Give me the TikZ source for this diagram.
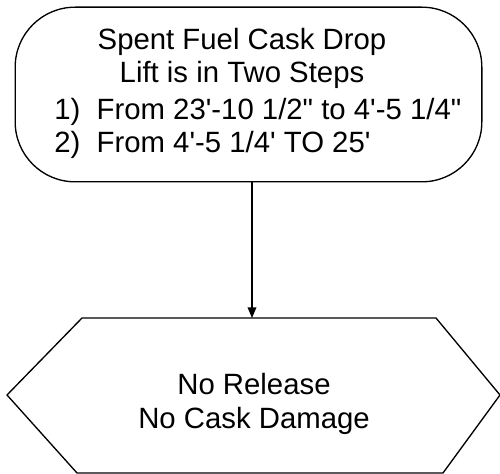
\documentclass[tikz,border=0pt]{standalone}
\usepackage{fontspec}
\setmainfont{Liberation Sans}
\usetikzlibrary{arrows.meta,positioning,calc}
\newcommand{\ftm}{\textquotesingle}
\newcommand{\inm}{\textquotedbl}
\tikzset{
  stadium/.style={draw, line width=1pt, rounded corners=45pt, minimum width=350pt,
    minimum height=131pt},
  flowtxt/.style={inner sep=0pt, font=\fontsize{22}{24.8}\selectfont},
  hexline/.style={draw, line width=1pt, line join=miter},
  arr/.style={-{Triangle[length=8pt,width=6.5pt]}, line width=1pt}
}
\begin{document}
\begin{tikzpicture}[x=0.75pt,y=-0.75pt]
  \useasboundingbox (0,0) rectangle (500,474);
  % top event
  \node[stadium] (drop) at (248.5,94.5) {};
  \node[flowtxt, align=center, anchor=base] (droptitle) at (242,83)
    {Spent Fuel Cask Drop\\Lift is in Two Steps};
  \node[flowtxt, align=left, anchor=base west] (dropsteps) at (54,153)
    {1)~~From 23\ftm-10 1/2\inm{} to 4\ftm-5 1/4\inm\\2)~~From 4\ftm-5 1/4\ftm{} TO 25\ftm};
  % end state
  \coordinate (hexnw) at (82,318);
  \coordinate (hexne) at (436,318);
  \coordinate (righttip) at (500,395);
  \coordinate (hexse) at (443,473);
  \coordinate (hexsw) at (77,473);
  \coordinate (lefttip) at (7,395);
  \draw[hexline] (hexnw) -- (hexne) -- (righttip) -- (hexse) -- (hexsw) -- (lefttip) -- cycle;
  \node[flowtxt, align=center, anchor=base] (release) at (254,428)
    {No Release\\No Cask Damage};
  \coordinate (feed) at (252,0);
  \draw[arr] (drop.south -| feed) -- (hexnw -| feed);
\end{tikzpicture}
\end{document}
